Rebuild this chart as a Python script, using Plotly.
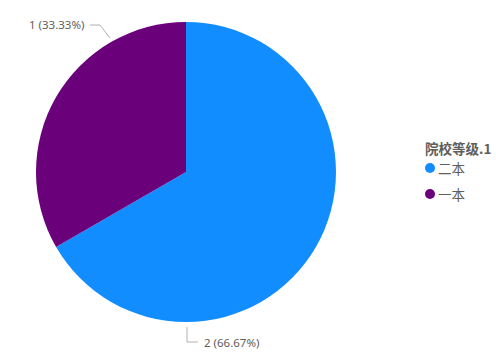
import plotly.graph_objects as go

categories = ["二本", "一本"]
values = [2, 1]
colors = ["#118DFF", "#6B007B"]
legend_title = "院校等级.1"

W, H = 496, 357
cx, cy, r = 186, 172, 150

total = sum(values)
labels_txt = [f"{v} ({v / total * 100:.2f}%)" for v in values]

fig = go.Figure()
fig.add_trace(go.Pie(
    labels=categories, values=values, sort=False, direction="clockwise", rotation=0,
    marker=dict(colors=colors, line=dict(width=0)), textinfo="none",
    hoverinfo="label+value+percent", showlegend=False,
    domain=dict(x=[(cx - r) / W, (cx + r) / W], y=[(H - cy - r) / H, (H - cy + r) / H]),
))

def px(x, y):
    return x / W, 1 - y / H

line_col = "#B3B0AD"
pts1 = [(110, 38), (100, 25), (90, 25)]
pts2 = [(187, 327), (187, 342), (198, 342)]
shapes = []
for pts in (pts1, pts2):
    path = "M " + " L ".join(f"{px(*p)[0]},{px(*p)[1]}" for p in pts)
    shapes.append(dict(type="path", path=path, xref="paper", yref="paper",
                       line=dict(color=line_col, width=1)))

font = "Segoe UI, Noto Sans, Open Sans, sans-serif"
cjk = "Noto Sans CJK SC, Noto Sans, sans-serif"
ann = [
    dict(x=px(86, 25)[0], y=px(86, 25)[1], text=labels_txt[1], xanchor="right", yanchor="middle",
         font=dict(size=11.5, color="#605E5C", family=font)),
    dict(x=px(202, 342)[0], y=px(202, 342)[1], text=labels_txt[0], xanchor="left", yanchor="middle",
         font=dict(size=11.5, color="#605E5C", family=font)),
    dict(x=px(423, 148)[0], y=px(423, 148)[1], text=f"<b>{legend_title}</b>", xanchor="left", yanchor="middle",
         font=dict(size=13.5, color="#605E5C", family=cjk)),
]
# manual legend (circle markers + labels)
leg_y = [168, 194]
for c, col, yy in zip(categories, colors, leg_y):
    mx, my = px(430, yy)
    shapes.append(dict(type="circle", xref="paper", yref="paper", xsizemode="pixel", ysizemode="pixel",
                       xanchor=mx, yanchor=my, x0=-5, x1=5, y0=-5, y1=5,
                       fillcolor=col, line=dict(width=0)))
    tx, ty = px(436, yy)
    ann.append(dict(x=tx, y=ty, text=c, xanchor="left", yanchor="middle",
                    font=dict(size=13.5, color="#605E5C", family=cjk)))
for a in ann:
    a.update(xref="paper", yref="paper", showarrow=False)

fig.update_layout(
    width=W, height=H, margin=dict(l=0, r=0, t=0, b=0),
    paper_bgcolor="white", plot_bgcolor="white", showlegend=False,
    shapes=shapes, annotations=ann,
)
fig.write_html("out.html")
